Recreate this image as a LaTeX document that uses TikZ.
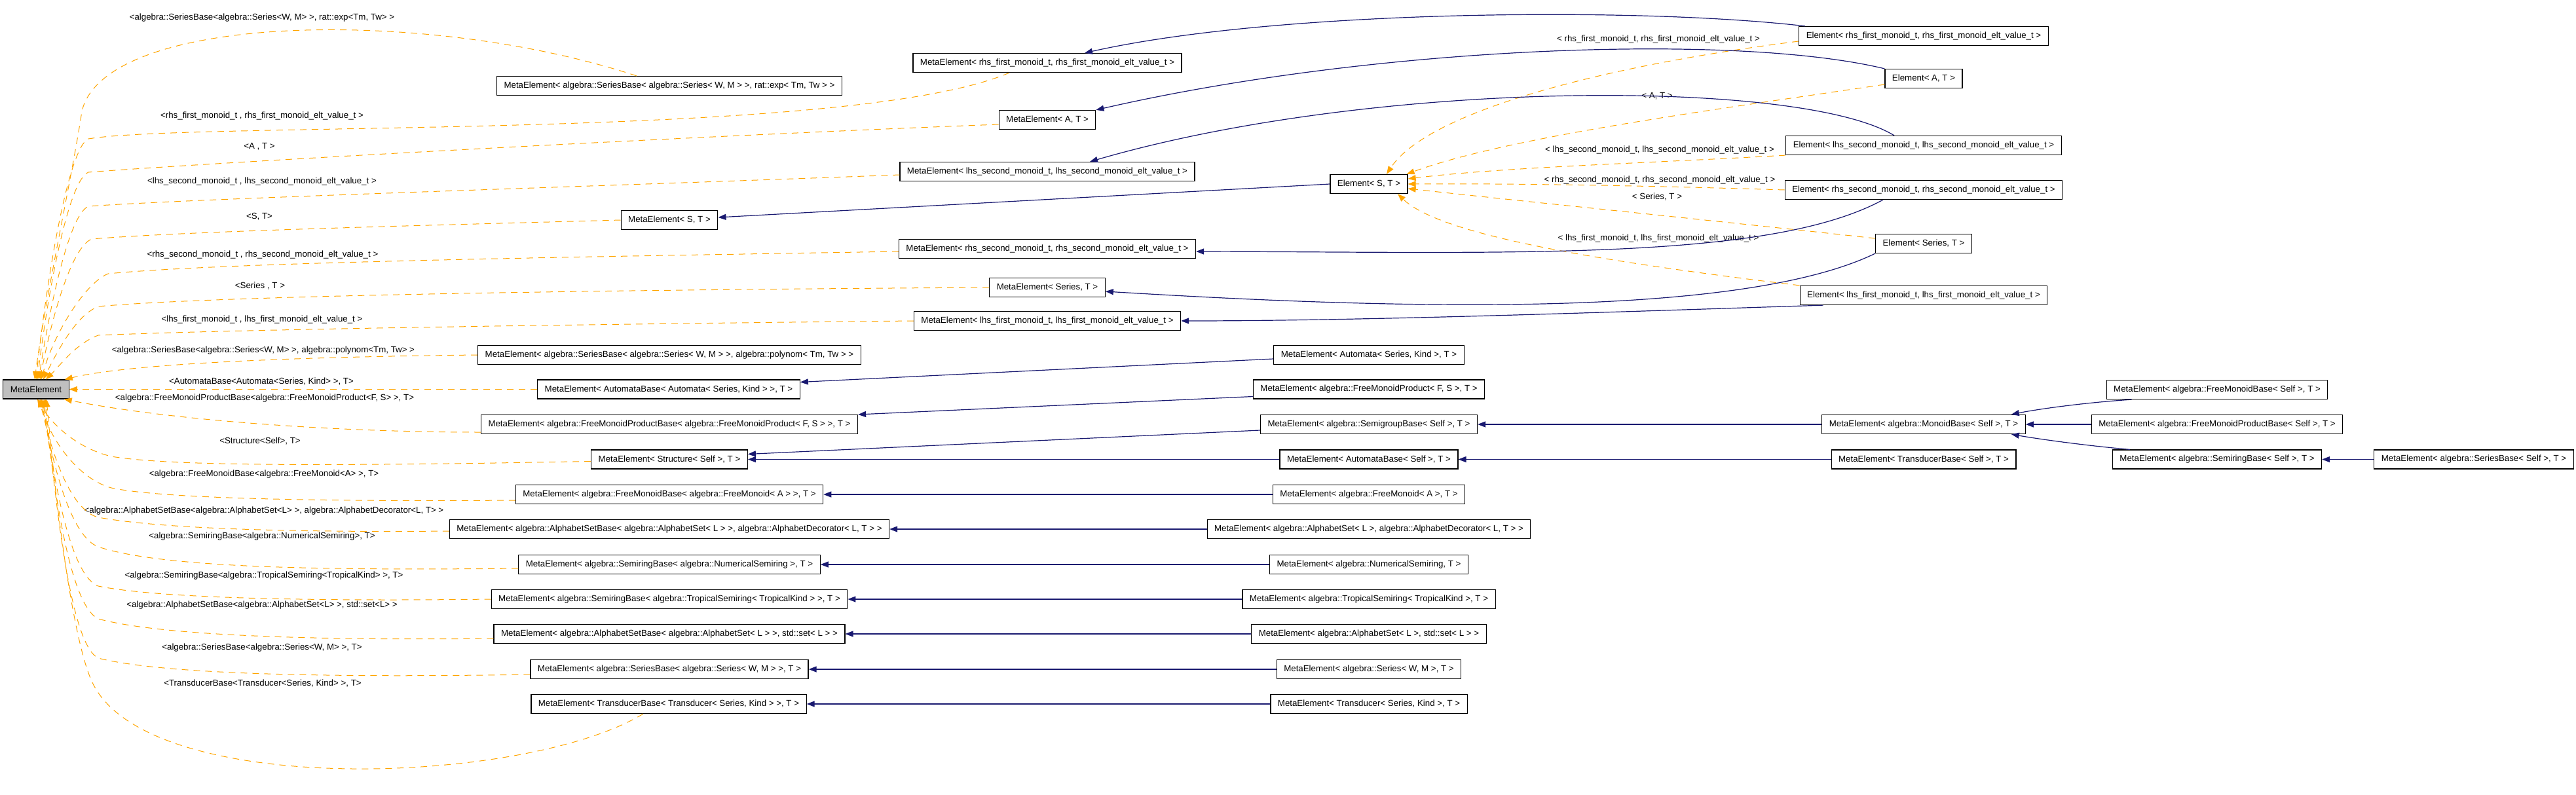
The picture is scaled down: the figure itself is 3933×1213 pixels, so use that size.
\documentclass[tikz,border=0pt]{standalone}
\usepackage{fontspec}
\setmainfont{Liberation Sans}
\usepackage{tikz}
\usetikzlibrary{arrows.meta}
\definecolor{myblue}{HTML}{191970}
\definecolor{myorange}{HTML}{FFA500}
\definecolor{mygray}{HTML}{BFBFBF}
\tikzset{
  cls/.style={draw, line width=1.2pt, minimum height=29pt, inner xsep=11pt, inner ysep=0pt},
  root/.style={cls, fill=mygray},
  inh/.style={myblue, line width=1.2pt, -{Triangle[length=12pt,width=9pt]}},
  tmpl/.style={myorange, line width=1pt, dash pattern=on 10pt off 8pt, -{Triangle[length=12pt,width=9pt]}},
  lbl/.style={inner sep=0pt}
}

\begin{document}
\begin{tikzpicture}[every node/.style={font=\fontsize{13.3}{16}\selectfont}]
      \useasboundingbox (0pt,0pt) rectangle (3933pt,-1213pt);
      \node[root] (me) at (55pt,-594.5pt) {MetaElement};
      \node[cls] (serexp) at (1022pt,-131pt) {MetaElement< algebra::SeriesBase< algebra::Series< W, M > >, rat::exp< Tm, Tw > >};
      \node[cls] (rhsfirst) at (1599pt,-96pt) {MetaElement< rhs\_first\_monoid\_t, rhs\_first\_monoid\_elt\_value\_t >};
      \node[cls] (metaA) at (1599pt,-183pt) {MetaElement< A, T >};
      \node[cls] (lhssecond) at (1599pt,-262pt) {MetaElement< lhs\_second\_monoid\_t, lhs\_second\_monoid\_elt\_value\_t >};
      \node[cls] (metaS) at (1022pt,-336pt) {MetaElement< S, T >};
      \node[cls] (rhssecond) at (1599pt,-380pt) {MetaElement< rhs\_second\_monoid\_t, rhs\_second\_monoid\_elt\_value\_t >};
      \node[cls] (metaseries) at (1599pt,-439pt) {MetaElement< Series, T >};
      \node[cls] (lhsfirst) at (1599pt,-490pt) {MetaElement< lhs\_first\_monoid\_t, lhs\_first\_monoid\_elt\_value\_t >};
      \node[cls] (serpoly) at (1022pt,-542pt) {MetaElement< algebra::SeriesBase< algebra::Series< W, M > >, algebra::polynom< Tm, Tw > >};
      \node[cls] (autbase) at (1021pt,-594.5pt) {MetaElement< AutomataBase< Automata< Series, Kind > >, T >};
      \node[cls] (fmpbase) at (1022pt,-648pt) {MetaElement< algebra::FreeMonoidProductBase< algebra::FreeMonoidProduct< F, S > >, T >};
      \node[cls] (structure) at (1022pt,-701.5pt) {MetaElement< Structure< Self >, T >};
      \node[cls] (fmbase) at (1022pt,-755pt) {MetaElement< algebra::FreeMonoidBase< algebra::FreeMonoid< A > >, T >};
      \node[cls] (asdeco) at (1022pt,-808pt) {MetaElement< algebra::AlphabetSetBase< algebra::AlphabetSet< L > >, algebra::AlphabetDecorator< L, T > >};
      \node[cls] (numsr) at (1022pt,-862pt) {MetaElement< algebra::SemiringBase< algebra::NumericalSemiring >, T >};
      \node[cls] (tropsr) at (1022pt,-915pt) {MetaElement< algebra::SemiringBase< algebra::TropicalSemiring< TropicalKind > >, T >};
      \node[cls] (asset) at (1022pt,-968pt) {MetaElement< algebra::AlphabetSetBase< algebra::AlphabetSet< L > >, std::set< L > >};
      \node[cls] (serbase) at (1022pt,-1022pt) {MetaElement< algebra::SeriesBase< algebra::Series< W, M > >, T >};
      \node[cls] (trbase) at (1021pt,-1075pt) {MetaElement< TransducerBase< Transducer< Series, Kind > >, T >};
      \node[cls] (elrhsfirst) at (2937pt,-55pt) {Element< rhs\_first\_monoid\_t, rhs\_first\_monoid\_elt\_value\_t >};
      \node[cls] (elA) at (2937pt,-120pt) {Element< A, T >};
      \node[cls] (ellhssecond) at (2937pt,-222pt) {Element< lhs\_second\_monoid\_t, lhs\_second\_monoid\_elt\_value\_t >};
      \node[cls] (elrhssecond) at (2937pt,-290pt) {Element< rhs\_second\_monoid\_t, rhs\_second\_monoid\_elt\_value\_t >};
      \node[cls] (elseries) at (2937pt,-372pt) {Element< Series, T >};
      \node[cls] (ellhsfirst) at (2937pt,-451pt) {Element< lhs\_first\_monoid\_t, lhs\_first\_monoid\_elt\_value\_t >};
      \node[cls] (elS) at (2090pt,-281pt) {Element< S, T >};
      \node[cls] (automata) at (2090pt,-542pt) {MetaElement< Automata< Series, Kind >, T >};
      \node[cls] (fmprod) at (2090pt,-594.5pt) {MetaElement< algebra::FreeMonoidProduct< F, S >, T >};
      \node[cls] (semigroup) at (2090pt,-648pt) {MetaElement< algebra::SemigroupBase< Self >, T >};
      \node[cls] (autself) at (2090pt,-701.5pt) {MetaElement< AutomataBase< Self >, T >};
      \node[cls] (freemonoid) at (2090pt,-755pt) {MetaElement< algebra::FreeMonoid< A >, T >};
      \node[cls] (alphadeco) at (2090pt,-808pt) {MetaElement< algebra::AlphabetSet< L >, algebra::AlphabetDecorator< L, T > >};
      \node[cls] (numerical) at (2090pt,-862pt) {MetaElement< algebra::NumericalSemiring, T >};
      \node[cls] (tropical) at (2090pt,-915pt) {MetaElement< algebra::TropicalSemiring< TropicalKind >, T >};
      \node[cls] (alphaset) at (2090pt,-968pt) {MetaElement< algebra::AlphabetSet< L >, std::set< L > >};
      \node[cls] (series) at (2090pt,-1022pt) {MetaElement< algebra::Series< W, M >, T >};
      \node[cls] (transducer) at (2090pt,-1075pt) {MetaElement< Transducer< Series, Kind >, T >};
      \node[cls] (monoid) at (2937pt,-648pt) {MetaElement< algebra::MonoidBase< Self >, T >};
      \node[cls] (trself) at (2937pt,-701.5pt) {MetaElement< TransducerBase< Self >, T >};
      \node[cls] (fmself) at (3385pt,-595pt) {MetaElement< algebra::FreeMonoidBase< Self >, T >};
      \node[cls] (fmpself) at (3385pt,-648pt) {MetaElement< algebra::FreeMonoidProductBase< Self >, T >};
      \node[cls] (srself) at (3385pt,-701.5pt) {MetaElement< algebra::SemiringBase< Self >, T >};
      \node[cls] (sbself) at (3777pt,-701.5pt) {MetaElement< algebra::SeriesBase< Self >, T >};
      \node[lbl] (lserexp) at (400pt,-27pt) {<algebra::SeriesBase<algebra::Series<W, M> >, rat::exp<Tm, Tw> >};
      \node[lbl] (lrhsfirst) at (400pt,-177pt) {<rhs\_first\_monoid\_t , rhs\_first\_monoid\_elt\_value\_t >};
      \node[lbl] (lmetaA) at (396pt,-224pt) {<A , T >};
      \node[lbl] (llhssecond) at (400pt,-277pt) {<lhs\_second\_monoid\_t , lhs\_second\_monoid\_elt\_value\_t >};
      \node[lbl] (lmetaS) at (396pt,-331pt) {<S, T>};
      \node[lbl] (lrhssecond) at (401pt,-389pt) {<rhs\_second\_monoid\_t , rhs\_second\_monoid\_elt\_value\_t >};
      \node[lbl] (lmetaseries) at (397pt,-437pt) {<Series , T >};
      \node[lbl] (llhsfirst) at (400pt,-488pt) {<lhs\_first\_monoid\_t , lhs\_first\_monoid\_elt\_value\_t >};
      \node[lbl] (lserpoly) at (402pt,-535pt) {<algebra::SeriesBase<algebra::Series<W, M> >, algebra::polynom<Tm, Tw> >};
      \node[lbl] (lautbase) at (399pt,-583pt) {<AutomataBase<Automata<Series, Kind> >, T>};
      \node[lbl] (lfmpbase) at (404pt,-608pt) {<algebra::FreeMonoidProductBase<algebra::FreeMonoidProduct<F, S> >, T>};
      \node[lbl] (lstructure) at (397pt,-674pt) {<Structure<Self>, T>};
      \node[lbl] (lfmbase) at (403pt,-724pt) {<algebra::FreeMonoidBase<algebra::FreeMonoid<A> >, T>};
      \node[lbl] (lasdeco) at (403pt,-780pt) {<algebra::AlphabetSetBase<algebra::AlphabetSet<L> >, algebra::AlphabetDecorator<L, T> >};
      \node[lbl] (lnumsr) at (400pt,-819pt) {<algebra::SemiringBase<algebra::NumericalSemiring>, T>};
      \node[lbl] (ltropsr) at (403pt,-879pt) {<algebra::SemiringBase<algebra::TropicalSemiring<TropicalKind> >, T>};
      \node[lbl] (lasset) at (400pt,-924pt) {<algebra::AlphabetSetBase<algebra::AlphabetSet<L> >, std::set<L> >};
      \node[lbl] (lserbase) at (400pt,-989pt) {<algebra::SeriesBase<algebra::Series<W, M> >, T>};
      \node[lbl] (ltrbase) at (401pt,-1044pt) {<TransducerBase<Transducer<Series, Kind> >, T>};
      \node[lbl] (lelrhsfirst) at (2532pt,-60pt) {< rhs\_first\_monoid\_t, rhs\_first\_monoid\_elt\_value\_t >};
      \node[lbl] (lelA) at (2530pt,-147pt) {< A, T >};
      \node[lbl] (lellhssecond) at (2534pt,-229pt) {< lhs\_second\_monoid\_t, lhs\_second\_monoid\_elt\_value\_t >};
      \node[lbl] (lelrhssecond) at (2534pt,-275pt) {< rhs\_second\_monoid\_t, rhs\_second\_monoid\_elt\_value\_t >};
      \node[lbl] (lelseries) at (2530pt,-301pt) {< Series, T >};
      \node[lbl] (lellhsfirst) at (2532pt,-364pt) {< lhs\_first\_monoid\_t, lhs\_first\_monoid\_elt\_value\_t >};
      \draw[tmpl] ([xshift=-50pt]serexp.north) .. controls (650pt,-10pt) and (160pt,-20pt) .. (125pt,-170pt) .. controls (110pt,-270pt) and (70pt,-450pt) .. ([xshift=-2pt]me.north);
      \draw[tmpl] ([xshift=-58pt]rhsfirst.south) .. controls (1300pt,-215pt) and (300pt,-185pt) .. (135pt,-212pt) .. controls (105pt,-225pt) and (72pt,-420pt) .. (me.north);
      \draw[tmpl] ([yshift=-7pt]metaA.west) .. controls (1000pt,-210pt) and (300pt,-250pt) .. (135pt,-263pt) .. controls (105pt,-275pt) and (74pt,-440pt) .. ([xshift=2pt]me.north);
      \draw[tmpl] ([yshift=-5pt]lhssecond.west) .. controls (900pt,-285pt) and (300pt,-303pt) .. (135pt,-315pt) .. controls (105pt,-328pt) and (76pt,-470pt) .. ([xshift=4pt]me.north);
      \draw[tmpl] (metaS.west) .. controls (700pt,-343pt) and (300pt,-352pt) .. (140pt,-365pt) .. controls (108pt,-378pt) and (78pt,-490pt) .. ([xshift=6pt]me.north);
      \draw[tmpl] ([yshift=-4pt]rhssecond.west) .. controls (900pt,-392pt) and (350pt,-400pt) .. (165pt,-418pt) .. controls (130pt,-432pt) and (82pt,-510pt) .. ([xshift=8pt]me.north);
      \draw[tmpl] (metaseries.west) .. controls (1000pt,-442pt) and (350pt,-450pt) .. (150pt,-468pt) .. controls (115pt,-482pt) and (86pt,-540pt) .. ([xshift=11pt]me.north);
      \draw[tmpl] (lhsfirst.west) .. controls (900pt,-495pt) and (350pt,-503pt) .. (150pt,-512pt) .. controls (115pt,-525pt) and (90pt,-560pt) .. ([xshift=15pt]me.north);
      \draw[tmpl] (serpoly.west) .. controls (450pt,-545pt) and (200pt,-555pt) .. ([xshift=-7pt]me.north east);
      \draw[tmpl] (autbase.west) -- (me.east);
      \draw[tmpl] ([yshift=-12pt]fmpbase.west) .. controls (500pt,-660pt) and (250pt,-640pt) .. ([xshift=-8pt]me.south east);
      \draw[tmpl] ([yshift=-3pt]structure.west) .. controls (500pt,-712pt) and (260pt,-712pt) .. (170pt,-697pt) .. controls (120pt,-685pt) and (80pt,-650pt) .. ([xshift=2pt]me.south);
      \draw[tmpl] ([yshift=-9pt]fmbase.west) .. controls (500pt,-766pt) and (250pt,-762pt) .. (170pt,-745pt) .. controls (125pt,-733pt) and (80pt,-680pt) .. ([xshift=4pt]me.south);
      \draw[tmpl] ([yshift=-3pt]asdeco.west) .. controls (450pt,-813pt) and (250pt,-808pt) .. (150pt,-790pt) .. controls (110pt,-780pt) and (80pt,-700pt) .. ([xshift=6pt]me.south);
      \draw[tmpl] ([yshift=-6pt]numsr.west) .. controls (500pt,-871pt) and (250pt,-868pt) .. (150pt,-835pt) .. controls (110pt,-820pt) and (82pt,-720pt) .. ([xshift=8pt]me.south);
      \draw[tmpl] (tropsr.west) .. controls (500pt,-918pt) and (250pt,-915pt) .. (150pt,-895pt) .. controls (110pt,-880pt) and (84pt,-750pt) .. ([xshift=10pt]me.south);
      \draw[tmpl] ([yshift=-7pt]asset.west) .. controls (500pt,-978pt) and (250pt,-972pt) .. (150pt,-945pt) .. controls (110pt,-925pt) and (86pt,-780pt) .. ([xshift=12pt]me.south);
      \draw[tmpl] ([yshift=-8pt]serbase.west) .. controls (500pt,-1035pt) and (250pt,-1030pt) .. (150pt,-1005pt) .. controls (110pt,-985pt) and (88pt,-800pt) .. ([xshift=14pt]me.south);
      \draw[tmpl] ([xshift=-39pt]trbase.south) .. controls (800pt,-1200pt) and (220pt,-1220pt) .. (140pt,-1040pt) .. controls (115pt,-985pt) and (90pt,-820pt) .. ([xshift=16pt]me.south);
      \draw[tmpl] ([yshift=-8pt]elrhsfirst.west) .. controls (2450pt,-100pt) and (2180pt,-170pt) .. ([xshift=27pt]elS.north);
      \draw[tmpl] ([yshift=-9pt]elA.west) .. controls (2600pt,-170pt) and (2300pt,-210pt) .. ([xshift=-2pt]elS.north east);
      \draw[tmpl] (ellhssecond.south west) .. controls (2500pt,-250pt) and (2300pt,-255pt) .. ([yshift=8pt]elS.east);
      \draw[tmpl] (elrhssecond.west) .. controls (2500pt,-283pt) and (2300pt,-280pt) .. (elS.east);
      \draw[tmpl] ([yshift=8pt]elseries.west) .. controls (2600pt,-335pt) and (2350pt,-310pt) .. ([yshift=-7pt]elS.east);
      \draw[tmpl] (ellhsfirst.north west) .. controls (2450pt,-400pt) and (2200pt,-360pt) .. ([xshift=44pt]elS.south);
      \draw[inh] ([xshift=10pt]elrhsfirst.north west) .. controls (2500pt,-10pt) and (1950pt,-15pt) .. ([xshift=57pt]rhsfirst.north);
      \draw[inh] (elA.north west) .. controls (2650pt,-50pt) and (2100pt,-70pt) .. (metaA.north east);
      \draw[inh] ([xshift=-45pt]ellhssecond.north) .. controls (2750pt,-120pt) and (2100pt,-120pt) .. ([xshift=65pt]lhssecond.north);
      \draw[inh] (elS.west) -- ([yshift=4pt]metaS.east);
      \draw[inh] ([xshift=-62pt]elrhssecond.south) .. controls (2700pt,-400pt) and (2300pt,-385pt) .. ([yshift=-4pt]rhssecond.east);
      \draw[inh] (elseries.south west) .. controls (2650pt,-490pt) and (2100pt,-470pt) .. ([yshift=-6pt]metaseries.east);
      \draw[inh] ([xshift=36pt]ellhsfirst.south west) .. controls (2500pt,-475pt) and (2100pt,-490pt) .. (lhsfirst.east);
      \draw[inh] ([yshift=-6pt]automata.west) -- ([yshift=11pt]autbase.east);
      \draw[inh] ([yshift=-11pt]fmprod.west) -- ([yshift=15pt]fmpbase.east);
      \draw[inh] ([yshift=-9pt]semigroup.west) -- ([yshift=8pt]structure.east);
      \draw[inh] (autself.west) -- (structure.east);
      \draw[inh] (freemonoid.west) -- (fmbase.east);
      \draw[inh] (alphadeco.west) -- (asdeco.east);
      \draw[inh] (numerical.west) -- (numsr.east);
      \draw[inh] (tropical.west) -- (tropsr.east);
      \draw[inh] (alphaset.west) -- (asset.east);
      \draw[inh] (series.west) -- (serbase.east);
      \draw[inh] (transducer.west) -- (trbase.east);
      \draw[inh] (monoid.west) -- (semigroup.east);
      \draw[inh] (trself.west) -- (autself.east);
      \draw[inh] ([xshift=39pt]fmself.south west) .. controls (3180pt,-615pt) and (3110pt,-625pt) .. ([xshift=-22pt]monoid.north east);
      \draw[inh] (fmpself.west) -- (monoid.east);
      \draw[inh] ([xshift=27pt]srself.north west) .. controls (3180pt,-680pt) and (3110pt,-670pt) .. ([xshift=-22pt]monoid.south east);
      \draw[inh] (sbself.west) -- (srself.east);
    \end{tikzpicture}
\end{document}
